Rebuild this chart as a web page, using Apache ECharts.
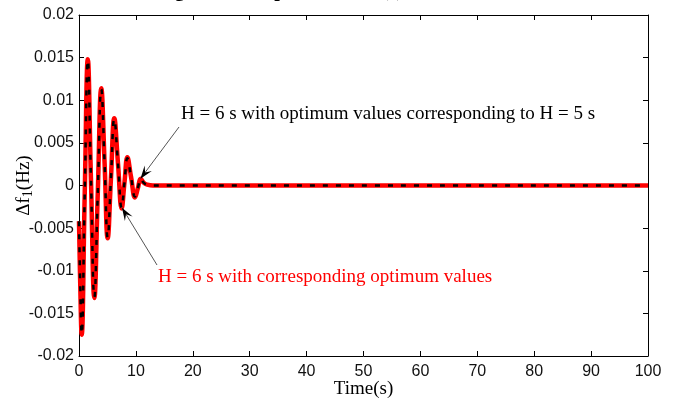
<!DOCTYPE html>
<html>
<head>
<meta charset="utf-8">
<script src="https://cdn.jsdelivr.net/npm/echarts@6/dist/echarts.min.js"></script>
<style>
  html, body { margin: 0; padding: 0; background: #fff; }
  #chart { width: 675px; height: 400px; }
</style>
</head>
<body>
<div id="chart"></div>
<script>
// Frequency deviation of area 1 after the load step
// H = 6 s with its own optimum controller values (red)
const timeOptimal = [0, 0.2, 0.47, 1.0, 1.55, 2.1, 2.7, 3.3, 3.92, 4.5, 5.04, 5.62, 6.2, 6.85, 7.5, 8.0, 8.5, 9.15, 9.84, 10.35, 10.85, 11.4, 12.0, 13.0, 100];
const dfOptimal   = [-0.0042, -0.011, -0.0175, -0.0012, 0.0148, 0.0008, -0.0132, -0.0009, 0.0114, 0.0026, -0.0062, 0.0009, 0.0079, 0.0026, -0.0027, 0.0004, 0.0033, 0.0010, -0.0014, -0.0003, 0.0008, 0.0003, 0.0001, 0, 0];
// H = 6 s with the optimum values tuned for H = 5 s (black dashed)
const timeTunedH5 = [0, 0.2, 0.47, 1.0, 1.55, 2.1, 2.7, 3.3, 3.92, 4.5, 5.04, 5.62, 6.2, 6.85, 7.5, 8.0, 8.5, 9.15, 9.84, 10.35, 10.85, 11.4, 12.0, 13.0, 100];
const dfTunedH5   = [-0.0042, -0.011, -0.0174, -0.0012, 0.0147, 0.0008, -0.0131, -0.0009, 0.0113, 0.0026, -0.0061, 0.0009, 0.0078, 0.0026, -0.0026, 0.0004, 0.0032, 0.0010, -0.0013, -0.0003, 0.0008, 0.0003, 0.0001, 0, 0];

const xRange = { min: 0, max: 100, interval: 10 };
const yRange = { min: -0.02, max: 0.02, interval: 0.005 };

const labelOptimal = 'H = 6 s with corresponding optimum values';
const labelTunedH5 = 'H = 6 s with optimum values corresponding to H = 5 s';
const caption = 'Fig. 6. Δf1 responses for H(s) at 6 s';

const serif = '"Liberation Serif", "Times New Roman", serif';
const sans = '"Liberation Sans", Arial, sans-serif';

const toPairs = (xs, ys) => xs.map((x, i) => [x, ys[i]]);

const chart = echarts.init(document.getElementById('chart'), null, { renderer: 'canvas' });

const tickIn = { show: true, inside: true, length: 5, lineStyle: { color: '#000', width: 1 } };
const axisLine = { show: true, onZero: false, lineStyle: { color: '#000', width: 1 } };

chart.setOption({
  animation: false,
  backgroundColor: '#fff',
  grid: { left: 79, right: 27, top: 15, bottom: 44, containLabel: false, outerBoundsMode: 'none' },
  xAxis: [
    {
      type: 'value', position: 'bottom', ...xRange,
      axisLine, axisTick: tickIn, splitLine: { show: false },
      axisLabel: { color: '#111', fontFamily: sans, fontSize: 16, margin: 8 },
      name: 'Time(s)', nameLocation: 'middle', nameGap: 24, nameMoveOverlap: false,
      nameTextStyle: { color: '#000', fontFamily: serif, fontSize: 19 }
    },
    {
      type: 'value', position: 'top', ...xRange,
      axisLine, axisTick: tickIn, splitLine: { show: false },
      axisLabel: { show: false }
    }
  ],
  yAxis: [
    {
      type: 'value', position: 'left', ...yRange,
      axisLine, axisTick: tickIn, splitLine: { show: false },
      axisLabel: { color: '#111', fontFamily: sans, fontSize: 16, margin: 5 },
      name: '{a|Δf}{b|1}{a|(Hz)}', nameLocation: 'middle', nameRotate: 90, nameGap: 44,
      nameMoveOverlap: false,
      nameTextStyle: {
        rich: {
          a: { color: '#000', fontFamily: serif, fontSize: 19, lineHeight: 22 },
          b: { color: '#000', fontFamily: serif, fontSize: 14, lineHeight: 22, verticalAlign: 'bottom', padding: [9, 0, 0, 0] }
        }
      }
    },
    {
      type: 'value', position: 'right', ...yRange,
      axisLine, axisTick: tickIn, splitLine: { show: false },
      axisLabel: { show: false }
    }
  ],
  series: [
    {
      name: labelOptimal, type: 'line', xAxisIndex: 0, yAxisIndex: 0,
      data: toPairs(timeOptimal, dfOptimal), smooth: 0.45, showSymbol: false,
      lineStyle: { color: '#ff0000', width: 4.5 }, z: 2
    },
    {
      name: labelTunedH5, type: 'line', xAxisIndex: 0, yAxisIndex: 0,
      data: toPairs(timeTunedH5, dfTunedH5), smooth: 0.45, showSymbol: false,
      lineStyle: { color: '#000', width: 2.5, type: [5, 8] }, z: 3
    }
  ]
});

// Barbed arrowhead pointing from `from` to `tip`
function arrowHead(from, tip, len, halfW) {
  const dx = tip[0] - from[0], dy = tip[1] - from[1];
  const L = Math.hypot(dx, dy);
  const ux = dx / L, uy = dy / L, nx = -uy, ny = ux;
  const bx = tip[0] - ux * len, by = tip[1] - uy * len;
  const notch = [tip[0] - ux * len * 0.6, tip[1] - uy * len * 0.6];
  return [tip, [bx + nx * halfW, by + ny * halfW], notch, [bx - nx * halfW, by - ny * halfW]];
}

function annotation(from, tipData) {
  const tip = chart.convertToPixel({ xAxisIndex: 0, yAxisIndex: 0 }, tipData);
  return [
    { type: 'line', shape: { x1: from[0], y1: from[1], x2: tip[0], y2: tip[1] },
      style: { stroke: '#555', lineWidth: 1 }, z: 10 },
    { type: 'polygon', shape: { points: arrowHead(from, tip, 13, 4.5) },
      style: { fill: '#000' }, z: 11 }
  ];
}

chart.setOption({
  graphic: [
    { type: 'text', left: 157, top: -19, z: 5,
      style: { text: caption, fontFamily: serif, fontWeight: 'bold', fontSize: 20, fill: '#000' } },
    ...annotation([179, 127], [10.8, 0.0008]),
    ...annotation([157, 265], [7.55, -0.0026]),
    { type: 'text', left: 181, top: 105, z: 12,
      style: { text: labelTunedH5, fontFamily: serif, fontSize: 19, fill: '#000' } },
    { type: 'text', left: 158, top: 268, z: 12,
      style: { text: labelOptimal, fontFamily: serif, fontSize: 19, fill: '#ff0000' } }
  ]
});
</script>
</body>
</html>
